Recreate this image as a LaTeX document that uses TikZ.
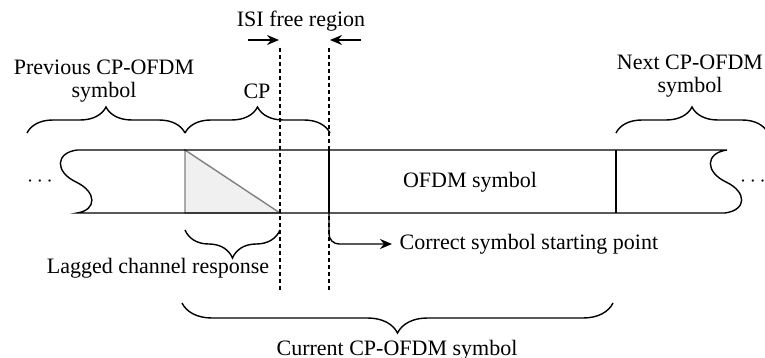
\documentclass[tikz,border=0pt]{standalone}
\usepackage{fontspec}
\setmainfont{Liberation Serif}
\usetikzlibrary{decorations.pathreplacing,arrows.meta}
\begin{document}
\begin{tikzpicture}[x=0.5pt,y=-0.5pt,line width=0.7pt]
    \tikzstyle{txt}=[inner sep=0pt,align=center,font=\fontsize{11}{11.5}\selectfont]
    \tikzstyle{brc}=[decorate]
    \tikzstyle{guide}=[dashed,dash pattern=on 2pt off 1.5pt]
    \tikzstyle{arr}=[-{Stealth[length=6pt,width=5pt]}]
    \useasboundingbox (0,0) rectangle (765,358);

    % strip corners
    \coordinate (tl) at (77,150);
    \coordinate (tr) at (727,150);
    \coordinate (bl) at (77,213);
    \coordinate (br) at (725,213);
    \coordinate (cp_t) at (185,150);
    \coordinate (cp_b) at (185,213);
    \coordinate (lag_b) at (280,213);
    \coordinate (start_t) at (329,150);
    \coordinate (start_b) at (329,213);
    \coordinate (next_t) at (616,150);
    \coordinate (next_b) at (616,213);

    % lagged channel response (triangle)
    \filldraw[draw=gray,fill=gray!12] (cp_t) -- (cp_b) -- (lag_b) -- cycle;

    % OFDM strip with wavy ends
    \draw (bl) .. controls (97,210) and (97,192) .. (76,182)
        .. controls (55,172) and (55,153) .. (tl) -- (tr)
        .. controls (705,153) and (705,172) .. (726,182)
        .. controls (747,192) and (747,210) .. (br) -- cycle;
    \draw (start_t) -- (start_b);
    \draw (next_t) -- (next_b);

    \node[txt] (dots_l) at (40,182) {$\cdots$};
    \node[txt] (dots_r) at (753,182) {$\cdots$};
    \node[txt] (ofdm) at (470,182) {OFDM symbol};

    % ISI free region
    \coordinate (isi_l) at (280,48);
    \coordinate (isi_r) at (329,48);
    \draw[guide] (isi_l) -- (280,290);
    \draw[guide] (isi_r) -- (329,290);
    \node[txt] (isi) at (301,21) {ISI free region};
    \draw[arr] (248,40) -- (279,40);
    \draw[arr] (361,40) -- (330,40);

    % top braces
    \draw[brc,decoration={brace,amplitude=13pt}] (27,133) -- (185,133);
    \draw[brc,decoration={brace,amplitude=13pt}] (185,133) -- (330,133);
    \draw[brc,decoration={brace,amplitude=13pt}] (616,133) -- (768,133);
    \node[txt] (prev) at (104,81) {Previous CP-OFDM\\symbol};
    \node[txt] (cp) at (257,91) {CP};
    \node[txt] (next) at (690,76) {Next CP-OFDM\\symbol};

    % bottom braces
    \draw[brc,decoration={brace,amplitude=14pt}] (280,230) -- (185,230);
    \draw[brc,decoration={brace,amplitude=15pt}] (613,303) -- (182,303);
    \node[txt] (lagged) at (158,268) {Lagged channel response};
    \node[txt] (current) at (397,350) {Current CP-OFDM symbol};

    % correct starting point
    \node[txt,anchor=west] (correct) at (399,244) {Correct symbol starting point};
    \draw[arr,rounded corners=5pt,shorten >=3.5pt] (start_b) |- (correct.west);
\end{tikzpicture}
\end{document}
